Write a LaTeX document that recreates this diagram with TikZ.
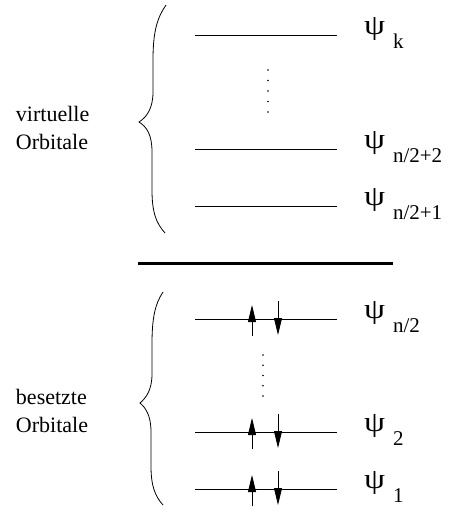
\documentclass[tikz,border=0pt]{standalone}
\usepackage{fontspec}
\setmainfont{Liberation Serif}
\usetikzlibrary{arrows.meta}

\newcommand{\orbpsi}{\resizebox*{21pt}{23pt}{ψ}}

\begin{document}
\begin{tikzpicture}[x=1pt,y=-1pt,inner sep=0pt,outer sep=0pt,
level/.style={line width=0.8pt},
spin/.style={line width=0.8pt,-{Triangle[length=17pt,width=8pt]}},
psi/.style={anchor=north west},
psisub/.style={anchor=base west,font=\fontsize{21}{21}\selectfont},
sidetext/.style={anchor=base west,align=left,font=\fontsize{22}{28}\selectfont}]
\useasboundingbox (0,0) rectangle (449,515);

% orbital levels
\foreach \n/\y in {k/35,u2/149,u1/206,n/319,b/432,a/489} {
  \coordinate (\n-l) at (195,\y);
  \coordinate (\n-r) at (337,\y);
  \draw[level] (\n-l) -- (\n-r);
}

% spin pairs on the occupied levels
\foreach \n in {n,b,a} {
  \draw[spin] ([shift={(57,17)}]\n-l) -- ++(0,-31);
  \draw[spin] ([shift={(83,-18)}]\n-l) -- ++(0,34);
}

% vertical dots
\foreach \i in {0,...,4} {
  \fill (268,70+10.5*\i) circle (0.9pt);
  \fill (263,355+10.25*\i) circle (0.9pt);
}

% HOMO/LUMO gap
\draw[line width=3pt] (138,263) -- (393,263);

% braces
\draw[line width=0.8pt] (166,5) .. controls (157,18) and (153,32) .. (153,60) -- (153,92)
  .. controls (153,108) and (147,117) .. (139,122)
  .. controls (147,127) and (152,135) .. (152,152) -- (152,190)
  .. controls (152,212) and (156,223) .. (165,233);
\draw[line width=0.8pt] (163,292) .. controls (155,304) and (152,318) .. (152,344) -- (152,374)
  .. controls (152,390) and (146,398) .. (140,403)
  .. controls (146,408) and (151,416) .. (151,432) -- (151,466)
  .. controls (151,486) and (155,496) .. (163,505);

% labels
\foreach \n/\y in {k/35,u2/149,u1/206,n/319,b/432,a/489}
  \node[psi] (psi-\n) at (364,\y-17) {\orbpsi};
\node[psisub] (sub-k)  at (393,48)  {k};
\node[psisub] (sub-u2) at (393,162) {n/2+2};
\node[psisub] (sub-u1) at (393,219) {n/2+1};
\node[psisub] (sub-n)  at (393,332) {n/2};
\node[psisub] (sub-b)  at (393,445) {2};
\node[psisub] (sub-a)  at (393,502) {1};

\node[sidetext] (virt) at (16,149) {virtuelle\\Orbitale};
\node[sidetext] (bes)  at (16,432) {besetzte\\Orbitale};

\end{tikzpicture}
\end{document}
